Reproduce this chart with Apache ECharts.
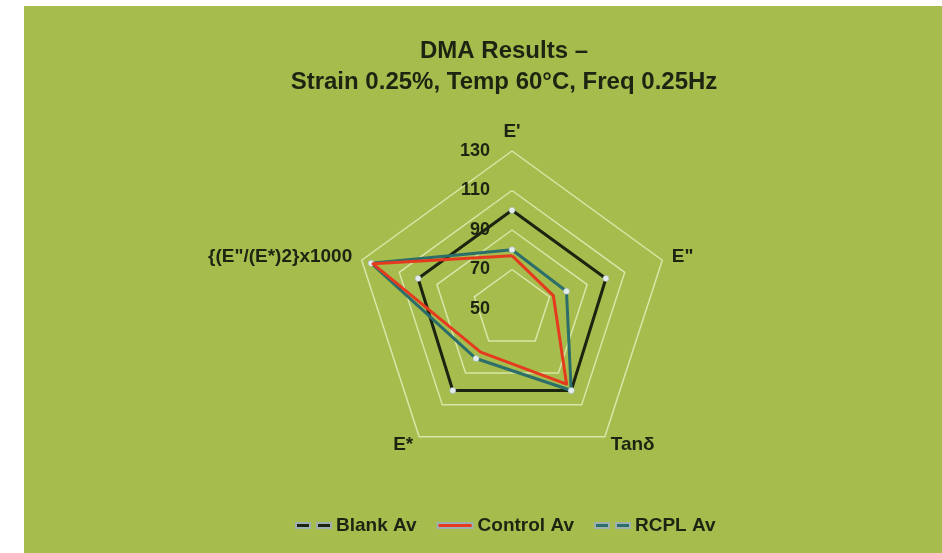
<!DOCTYPE html>
<html>
<head>
<meta charset="utf-8">
<script src="https://cdn.jsdelivr.net/npm/echarts@6/dist/echarts.min.js"></script>
<style>
  html, body { margin: 0; padding: 0; background: #fff; }
  #chart { width: 942px; height: 553px; }
</style>
</head>
<body>
<div id="chart"></div>
<script>
// indicators, counter-clockwise from the top (ECharts radar order)
const indicators = ["E'", '{(E"/(E*)2}x1000', 'E*', 'Tanδ', 'E"'];
const axisMin = 50;
const axisMax = 130;

const blankAv = [100, 100, 101, 101, 100];
const controlAv = [77, 124, 77, 97, 72];
const rcplAv = [80, 125, 81, 101, 79];

const seriesNames = ['Blank Av', 'Control Av', 'RCPL Av'];
const lineColors = ['#1a2410', '#e63a1f', '#2b6e6a'];

const ink = '#1c2511';
const chart = echarts.init(document.getElementById('chart'));

const dashIcon = 'path://M0,0h14v5h-14z M21,0h14v5h-14z';
const solidIcon = 'path://M0,0h35v5h-35z';

function radarSeries(name, values, color, marker, z) {
  return {
    type: 'radar',
    name: name,
    z: z,
    symbol: marker ? 'circle' : 'none',
    symbolSize: 6,
    lineStyle: { color: color, width: 3 },
    itemStyle: { color: '#e4eef0', borderColor: '#9fb0b0', borderWidth: 0.5 },
    data: [{ name: name, value: values }]
  };
}

chart.setOption({
  backgroundColor: '#fff',
  animation: false,
  graphic: [{
    type: 'rect', z: -10, silent: true,
    shape: { x: 24, y: 6, width: 930, height: 560 },
    style: { fill: '#a6bd4e' }
  }],
  title: {
    text: 'DMA Results –\nStrain 0.25%, Temp 60°C, Freq 0.25Hz',
    left: 499,
    top: 31,
    textAlign: 'center',
    textStyle: {
      fontFamily: 'Liberation Sans',
      fontSize: 24,
      fontWeight: 'bold',
      color: ink,
      lineHeight: 31
    }
  },
  legend: {
    left: 290,
    top: 511,
    itemWidth: 35,
    itemHeight: 5,
    itemGap: 20,
    textStyle: { fontFamily: 'Liberation Sans', fontSize: 19, fontWeight: 'bold', color: ink },
    data: seriesNames.map((n, i) => ({
      name: n,
      icon: i === 1 ? solidIcon : dashIcon,
      itemStyle: { color: lineColors[i] }
    }))
  },
  radar: {
    center: [512, 309],
    radius: 158,
    startAngle: 90,
    splitNumber: 4,
    shape: 'polygon',
    axisNameGap: 10,
    axisName: {
      fontFamily: 'Liberation Sans',
      fontSize: 19,
      fontWeight: 'bold',
      color: ink
    },
    splitLine: { lineStyle: { color: '#d8e6a8', width: 1.5 } },
    splitArea: { show: false },
    axisLine: { show: false },
    axisTick: { show: false },
    axisLabel: { show: false },
    indicator: indicators.map((name, i) => ({
      name: name,
      min: axisMin,
      max: axisMax,
      axisLabel: i === 0 ? {
        show: true,
        margin: 22,
        fontFamily: 'Liberation Sans',
        fontSize: 18,
        fontWeight: 'bold',
        color: ink
      } : { show: false }
    }))
  },
  series: [
    radarSeries(seriesNames[0], blankAv, lineColors[0], true, 2),
    radarSeries(seriesNames[2], rcplAv, lineColors[2], true, 3),
    radarSeries(seriesNames[1], controlAv, lineColors[1], false, 4)
  ]
});
</script>
</body>
</html>
